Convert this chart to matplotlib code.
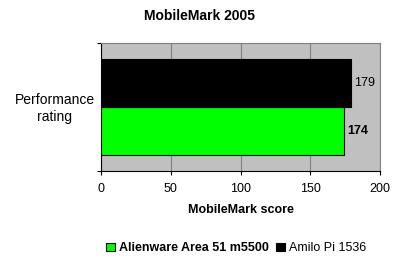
import matplotlib
matplotlib.use("Agg")
import matplotlib.pyplot as plt
from matplotlib.patches import Patch

plt.rcParams['font.family'] = ['Liberation Sans', 'DejaVu Sans']

title = "MobileMark 2005"
category = "Performance\nrating"
series_names = ["Alienware Area 51 m5500", "Amilo Pi 1536"]
series_values = [174, 179]
series_colors = ["#00FF00", "#000000"]
x_ticks = [0, 50, 100, 150, 200]
x_label = "MobileMark score"

fig = plt.figure(figsize=(4.0, 2.6), dpi=100)
ax = fig.add_axes([0.2525, 0.3404, 0.6975, 0.4942])
ax.set_facecolor("#C0C0C0")

bar_h = 0.375
offsets = [-bar_h / 2, bar_h / 2]
weights = ["bold", "normal"]
for val, col, off, w in zip(series_values, series_colors, offsets, weights):
    ax.barh(off, val, height=bar_h, color=col, edgecolor="black", linewidth=0.8, zorder=3)
    ax.text(val + 2.5, off, str(val), va="center", ha="left", fontsize=9,
            fontweight=w, color="black")

ax.set_xlim(0, 200)
ax.set_ylim(-0.5, 0.5)
ax.set_xticks(x_ticks)
ax.set_xticklabels([str(t) for t in x_ticks], fontsize=9)
ax.tick_params(axis="x", length=3, width=0.8, pad=5, color="black")
ax.set_yticks([-0.5, 0.5])
ax.set_yticklabels([])
ax.tick_params(axis="y", length=3, width=0.8, color="black")
ax.text(-0.165, 0.49, category, transform=ax.transAxes, ha="center", va="center",
        multialignment="center", fontsize=10, linespacing=1.3)

ax.grid(axis="x", color="#808080", linewidth=0.8, zorder=1)
ax.set_axisbelow(True)
for s in ["top", "right"]:
    ax.spines[s].set_color("#808080")
    ax.spines[s].set_linewidth(0.8)
for s in ["left", "bottom"]:
    ax.spines[s].set_color("black")
    ax.spines[s].set_linewidth(0.8)

ax.set_xlabel(x_label, fontsize=9, fontweight="bold", labelpad=7)
fig.text(0.5, 0.94, title, ha="center", va="center", fontsize=10, fontweight="bold")

handles = [Patch(facecolor=c, edgecolor="black", linewidth=0.8) for c in series_colors]
leg = fig.legend(handles, series_names, loc="center", bbox_to_anchor=(0.59, 0.045),
                 ncol=2, frameon=False, fontsize=9, handlelength=0.7, handleheight=0.7,
                 handletextpad=0.3, columnspacing=0.6)
leg.get_texts()[0].set_fontweight("bold")

fig.savefig("out.png", dpi=100)
